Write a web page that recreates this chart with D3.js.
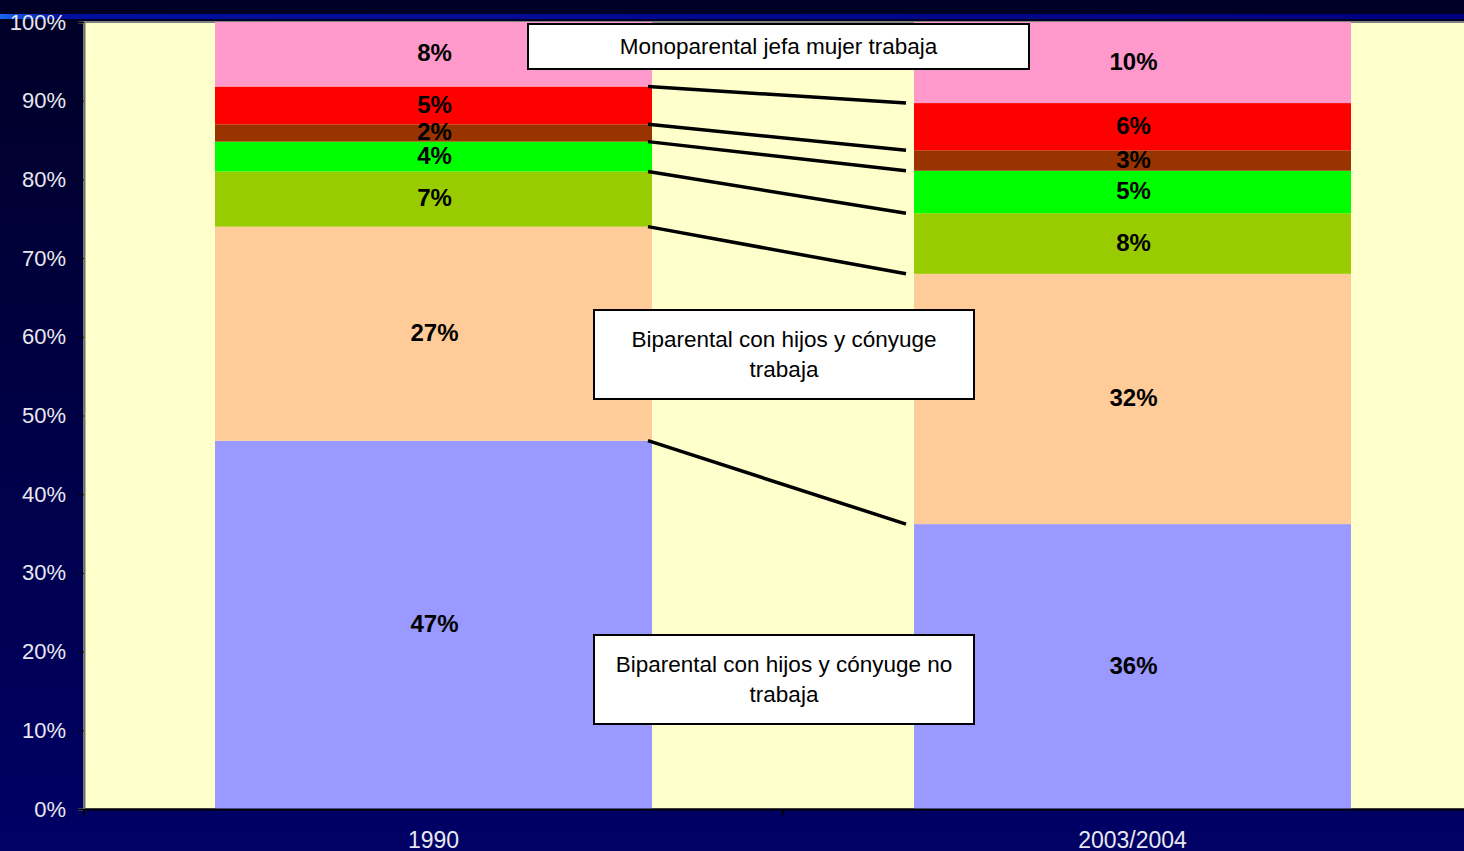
<!DOCTYPE html>
<html>
<head>
<meta charset="utf-8">
<script src="https://cdn.jsdelivr.net/npm/d3@7"></script>
<style>
  html, body { margin: 0; padding: 0; overflow: hidden; background: #000033; }
  svg { display: block; font-family: "Liberation Sans", Arial, sans-serif; }
</style>
</head>
<body>
<div id="chart"></div>
<script>
'use strict';

// Data
var categories = ['1990', '2003/2004'];
var seriesNames = [
    'Biparental con hijos y cónyuge no trabaja',
    'Biparental con hijos y cónyuge trabaja',
    'Serie 3',
    'Serie 4',
    'Serie 5',
    'Serie 6',
    'Monoparental jefa mujer trabaja'
];
var values1990 = [46.8, 27.2, 7.0, 3.8, 2.2, 4.8, 8.2];
var values2003 = [36.2, 31.8, 7.7, 5.4, 2.6, 6.0, 10.3];
var seriesColors = ['#9999ff', '#ffcc99', '#99cc00', '#00ff00', '#993300', '#ff0000', '#ff99cc'];
var yTicks = [0, 10, 20, 30, 40, 50, 60, 70, 80, 90, 100];

// Annotation boxes: text lines, which series they point at
var notes = [
    { lines: ['Monoparental jefa mujer trabaja'], series: 6, box: [528, 24, 501, 45] },
    { lines: ['Biparental con hijos y cónyuge', 'trabaja'], series: 1, box: [594, 310, 380, 89] },
    { lines: ['Biparental con hijos y cónyuge no', 'trabaja'], series: 0, box: [594, 635, 380, 89] }
];

var width = 1464, height = 851;
var margin = { left: 84, top: 22, bottom: 42 };
var plotW = 699 * 2;
var plotH = height - margin.top - margin.bottom;

var svg = d3.select('#chart').append('svg')
    .attr('width', width)
    .attr('height', height);

//Background gradient
var defs = svg.append('defs');
var bg = defs.append('linearGradient').attr('id', 'bgGrad')
    .attr('x1', 0).attr('y1', 0).attr('x2', 0).attr('y2', 1);
bg.append('stop').attr('offset', '0%').attr('stop-color', '#000026');
bg.append('stop').attr('offset', '100%').attr('stop-color', '#000066');
var stripe = defs.append('linearGradient').attr('id', 'stripeGrad')
    .attr('x1', 0).attr('y1', 0).attr('x2', 1).attr('y2', 0);
stripe.append('stop').attr('offset', '0%').attr('stop-color', '#1a66ee');
stripe.append('stop').attr('offset', '4%').attr('stop-color', '#0010a0');
stripe.append('stop').attr('offset', '100%').attr('stop-color', '#000080');

svg.append('rect').attr('width', width).attr('height', height).attr('fill', 'url(#bgGrad)');
svg.append('rect').attr('y', 14).attr('width', width).attr('height', 5).attr('fill', 'url(#stripeGrad)');

//Scales
var x = d3.scaleBand().domain(categories).range([margin.left, margin.left + plotW]).paddingInner(262 / 699).paddingOuter(131 / 699);
var y = d3.scaleLinear().domain([0, 100]).range([margin.top + plotH, margin.top]);

//Plot area
svg.append('rect')
    .attr('x', margin.left).attr('y', margin.top)
    .attr('width', plotW).attr('height', plotH)
    .attr('fill', '#ffffcc')
    .attr('stroke', '#808080').attr('stroke-width', 2);

//Stack the data
var table = categories.map(function(c, i) {
    var row = { category: c };
    var vals = i === 0 ? values1990 : values2003;
    seriesNames.forEach(function(s, j) { row[s] = vals[j]; });
    return row;
});
var stacked = d3.stack().keys(seriesNames)(table);

var barsGroup = svg.append('g').attr('id', 'barsGroup');
var labelsGroup = svg.append('g').attr('id', 'labelsGroup');
var linesGroup = svg.append('g').attr('id', 'linesGroup');

stacked.forEach(function(layer, j) {
    barsGroup.selectAll('.bar' + j)
        .data(layer)
        .enter().append('rect')
        .attr('x', function(d) { return x(d.data.category); })
        .attr('y', function(d) { return y(d[1]); })
        .attr('width', x.bandwidth())
        .attr('height', function(d) { return y(d[0]) - y(d[1]); })
        .attr('fill', seriesColors[j]);

    labelsGroup.selectAll('.label' + j)
        .data(layer)
        .enter().append('text')
        .attr('x', function(d) { return x(d.data.category) + x.bandwidth() / 2 + 1; })
        .attr('y', function(d) { return y((d[0] + d[1]) / 2); })
        .attr('dy', '0.3em')
        .attr('text-anchor', 'middle')
        .attr('font-size', 24)
        .attr('font-weight', 'bold')
        .attr('fill', '#000')
        .text(function(d) { return Math.round(d[1] - d[0]) + '%'; });
});

//Series lines between the bars
var x1 = x(categories[0]) + x.bandwidth() - 4;
var x2 = x(categories[1]) - 8;
stacked.slice(0, -1).forEach(function(layer) {
    linesGroup.append('line')
        .attr('x1', x1).attr('y1', y(layer[0][1]))
        .attr('x2', x2).attr('y2', y(layer[1][1]))
        .attr('stroke', '#000').attr('stroke-width', 3.5);
});

//Axes
var yAxis = svg.append('g')
    .attr('transform', 'translate(' + margin.left + ',0)')
    .call(d3.axisLeft(y).tickValues(yTicks).tickSize(6).tickPadding(12).tickFormat(function(d) { return d + '%'; }));
yAxis.select('.domain').attr('stroke', '#707070').attr('stroke-width', 2);
yAxis.selectAll('.tick line').attr('stroke', '#000');
yAxis.selectAll('.tick text').attr('fill', '#e8e8f0').attr('font-size', 22)
    .attr('font-family', '"Liberation Sans", Arial, sans-serif');

var xAxis = svg.append('g')
    .attr('transform', 'translate(0,' + (margin.top + plotH) + ')')
    .call(d3.axisBottom(x).tickSize(0).tickPadding(23));
xAxis.select('.domain').attr('stroke', '#000').attr('stroke-width', 2);
xAxis.selectAll('.tick text').attr('fill', '#e8e8f0').attr('font-size', 23)
    .attr('font-family', '"Liberation Sans", Arial, sans-serif');
//Tick marks between categories
xAxis.selectAll('.sep')
    .data([margin.left, margin.left + plotW / 2])
    .enter().append('line')
    .attr('x1', function(d) { return d; }).attr('x2', function(d) { return d; })
    .attr('y1', 0).attr('y2', 6)
    .attr('stroke', '#000').attr('stroke-width', 2);

//Annotation boxes
var notesGroup = svg.append('g').attr('id', 'notesGroup');
notes.forEach(function(n) {
    var g = notesGroup.append('g');
    g.append('rect')
        .attr('x', n.box[0]).attr('y', n.box[1])
        .attr('width', n.box[2]).attr('height', n.box[3])
        .attr('fill', '#fff').attr('stroke', '#000').attr('stroke-width', 2);
    var lh = 30;
    var startY = n.box[1] + n.box[3] / 2 - (n.lines.length - 1) * lh / 2;
    n.lines.forEach(function(t, i) {
        g.append('text')
            .attr('x', n.box[0] + n.box[2] / 2)
            .attr('y', startY + i * lh)
            .attr('dy', '0.33em')
            .attr('text-anchor', 'middle')
            .attr('font-size', 22.5)
            .attr('fill', '#000')
            .text(t);
    });
});
</script>
</body>
</html>
